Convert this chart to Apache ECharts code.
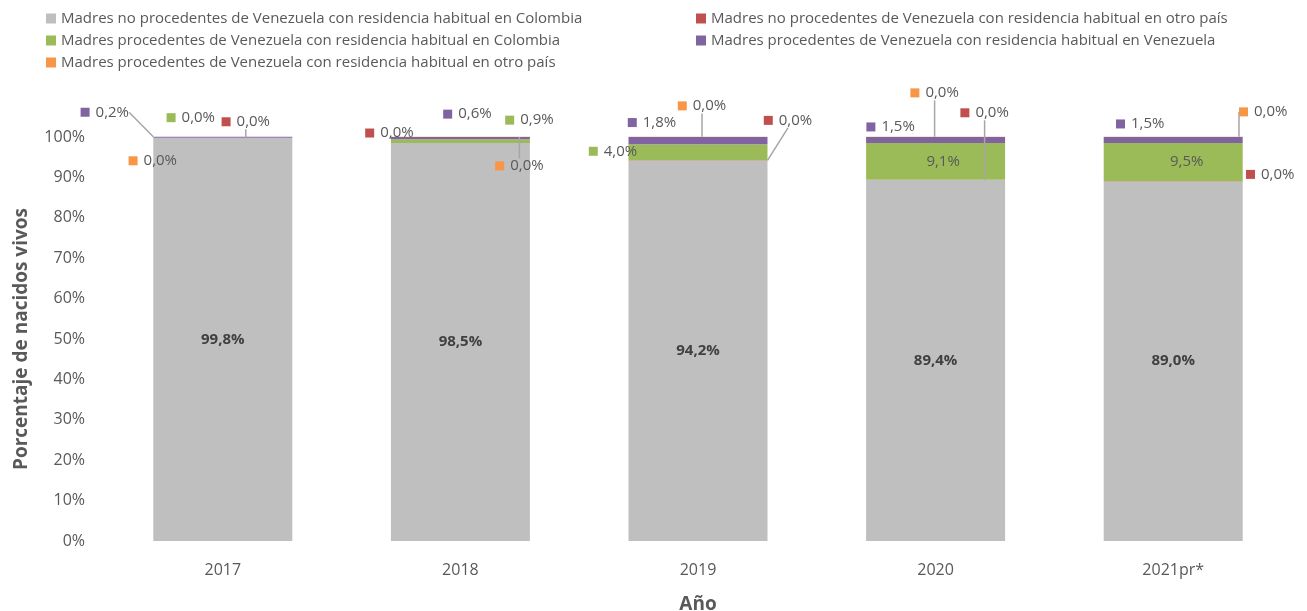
<!DOCTYPE html>
<html>
<head>
<meta charset="utf-8">
<script src="https://cdn.jsdelivr.net/npm/echarts@6/dist/echarts.min.js"></script>
<style>
  html, body { margin: 0; padding: 0; background: #fff; }
  #main { width: 1307px; height: 611px; }
</style>
</head>
<body>
<div id="main"></div>
<script>
// datos
var years = ['2017', '2018', '2019', '2020', '2021pr*'];
var seriesNames = [
  'Madres no procedentes de Venezuela con residencia habitual en Colombia',
  'Madres no procedentes de Venezuela con residencia habitual en otro país',
  'Madres procedentes de Venezuela con residencia habitual en Colombia',
  'Madres procedentes de Venezuela con residencia habitual en Venezuela',
  'Madres procedentes de Venezuela con residencia habitual en otro país'
];
var noVenColombia = [99.8, 98.5, 94.2, 89.4, 89.0];
var noVenOtro = [0.02, 0.02, 0.02, 0.02, 0.02];
var venColombia = [0.02, 0.9, 4.0, 9.1, 9.5];
var venVenezuela = [0.2, 0.6, 1.8, 1.5, 1.5];
var venOtro = [0.02, 0.02, 0.02, 0.02, 0.02];
var yTicks = [0, 10, 20, 30, 40, 50, 60, 70, 80, 90, 100];

var colors = ['#bfbfbf', '#c0504d', '#9bbb59', '#8064a2', '#f79646'];
var values = [noVenColombia, noVenOtro, venColombia, venVenezuela, venOtro];

// posicion de las etiquetas exteriores (desplazamiento desde el segmento)
var offsets = [
  [[0, 0], [0, 0], [0, 0], [0, 0], [0, 0]],
  [[23, -16], [-71, -10], [90, -40], [49, -67], [97, -7]],
  [[-32, -20], [69, -21], [-85, -1], [0, 0], [6, 0]],
  [[-118, -25], [7, -24], [-46, -18], [-45, -13], [-33, -16]],
  [[-70, 24], [59, 29], [4, -31], [-1, -44], [90, -25]]
];
var lines = [
  [false, false, false, false, false],
  [true, false, true, true, false],
  [false, false, false, false, false],
  [true, false, false, false, false],
  [false, true, true, true, true]
];

var fmt = function (v) { return v.toFixed(1).replace('.', ',') + '%'; };

var myChart = echarts.init(document.getElementById('main'));

var series = values.map(function (vals, s) {
  return {
    name: seriesNames[s],
    type: 'bar',
    stack: 'total',
    barWidth: '58.5%',
    clip: false,
    z: (s === 1 || s === 4) ? 3 : 2,
    itemStyle: { color: colors[s] },
    data: vals.map(function (v, i) {
      return { value: v, labelLine: { show: lines[s][i] } };
    }),
    label: {
      show: true,
      position: 'inside',
      formatter: s === 0
        ? function (p) { return fmt(p.value); }
        : function (p) { return '{sq|}{gap|}{v|' + fmt(p.value) + '}'; },
      fontFamily: 'Open Sans',
      fontSize: 15,
      fontWeight: s === 0 ? 'bold' : 'normal',
      color: s === 0 ? '#404040' : '#595959',
      rich: {
        sq: { width: 9, height: 9, backgroundColor: colors[s] },
        gap: { width: 6 },
        v: { fontFamily: 'Open Sans', fontSize: 15, color: '#595959' }
      }
    },
    labelLine: {
      show: false,
      lineStyle: { color: '#a6a6a6', width: 1.5 }
    },
    labelLayout: function (p) {
      var o = offsets[p.seriesIndex][p.dataIndex];
      return { dx: o[0], dy: o[1] };
    }
  };
});

myChart.setOption({
  animation: false,
  textStyle: { fontFamily: 'Open Sans' },
  legend: [
    {
      data: [seriesNames[0], seriesNames[2], seriesNames[4]],
      orient: 'vertical',
      left: 46, top: 11, padding: 0,
      itemWidth: 10, itemHeight: 10, itemGap: 7,
      icon: 'rect',
      textStyle: { fontFamily: 'Open Sans', fontSize: 15, color: '#595959' }
    },
    {
      data: [seriesNames[1], seriesNames[3]],
      orient: 'vertical',
      left: 696, top: 11, padding: 0,
      itemWidth: 10, itemHeight: 10, itemGap: 7,
      icon: 'rect',
      textStyle: { fontFamily: 'Open Sans', fontSize: 15, color: '#595959' }
    }
  ],
  grid: { left: 104, right: 15, top: 137, bottom: 70, containLabel: false, outerBoundsMode: 'none' },
  xAxis: {
    type: 'category',
    data: years,
    name: 'Año',
    nameLocation: 'middle',
    nameGap: 54,
    nameTextStyle: { fontFamily: 'Open Sans', fontSize: 19, fontWeight: 'bold', color: '#595959' },
    axisLine: { show: false },
    axisTick: { show: false },
    axisLabel: { fontFamily: 'Open Sans', fontSize: 16, color: '#595959', margin: 21 }
  },
  yAxis: {
    type: 'value',
    min: yTicks[0],
    max: yTicks[yTicks.length - 1],
    interval: 10,
    name: 'Porcentaje de nacidos vivos',
    nameLocation: 'middle',
    nameGap: 73,
    nameTextStyle: { fontFamily: 'Open Sans', fontSize: 19, fontWeight: 'bold', color: '#595959' },
    axisLine: { show: false },
    axisTick: { show: false },
    splitLine: { show: false },
    axisLabel: {
      fontFamily: 'Open Sans', fontSize: 16, color: '#595959', margin: 19,
      formatter: function (v) { return v + '%'; }
    }
  },
  series: series
});
</script>
</body>
</html>
